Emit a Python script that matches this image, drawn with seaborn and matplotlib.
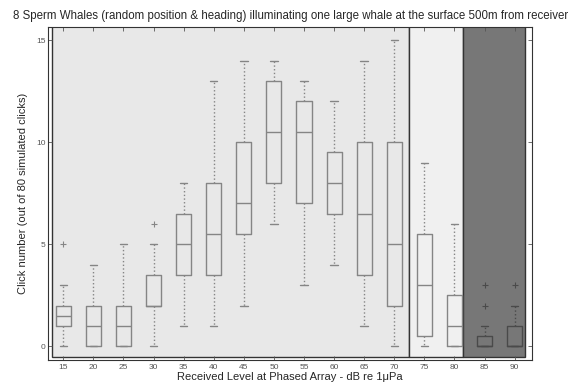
import pandas as pd
import matplotlib.pyplot as plt
import matplotlib.patches as mpatches
import seaborn as sns

# received level bins (dB re 1uPa)
levels = [15, 20, 25, 30, 35, 40, 45, 50, 55, 60, 65, 70, 75, 80, 85, 90]
# box stats (click counts)
whis_lo = [0, 0, 0, 0, 1, 1, 2, 6, 3, 4, 1, 0, 0, 0, 0, 0]
q1 = [1, 0, 0, 2, 3.5, 3.5, 5.5, 8, 7, 6.5, 3.5, 2, 0.5, 0, 0, 0]
median = [1.5, 1, 1, 2, 5, 5.5, 7, 10.5, 10.5, 8, 6.5, 5, 3, 1, 0, 0]
q3 = [2, 2, 2, 3.5, 6.5, 8, 10, 13, 12, 9.5, 10, 10, 5.5, 2.5, 0.5, 1]
whis_hi = [3, 4, 5, 5, 8, 13, 14, 14, 13, 12, 14, 15, 9, 6, 1, 2]
outliers = {15: [5], 30: [6], 85: [2, 3], 90: [3]}

# long-form samples that reproduce the quartiles above
rows = []
for i, lv in enumerate(levels):
    vals = [whis_lo[i]] + [q1[i]] * 10 + [median[i]] * 10 + [q3[i]] * 10 + [whis_hi[i]]
    vals += outliers.get(lv, [])
    rows += [(lv, v) for v in vals]
df = pd.DataFrame(rows, columns=["level", "clicks"])

sns.set_style("white")
plt.rcParams['font.family'] = ['Liberation Sans', 'DejaVu Sans']

fig = plt.figure(figsize=(5.74, 3.85), dpi=100)
ax = fig.add_axes([0.084, 0.066, 0.843, 0.864])

# shaded level regions
ax.add_patch(mpatches.Rectangle((13.2, -0.5), 59.3, 20, facecolor="#e8e8e8",
                                edgecolor="#333333", lw=1.0, zorder=0))
ax.add_patch(mpatches.Rectangle((72.5, -0.5), 9.0, 20, facecolor="#f0f0f0",
                                edgecolor="#333333", lw=1.0, zorder=0))
ax.add_patch(mpatches.Rectangle((81.5, -0.5), 10.3, 20, facecolor="#777777",
                                edgecolor="#333333", lw=1.0, zorder=0))


def draw_boxes(sub, c):
    sns.boxplot(data=sub, x="level", y="clicks", native_scale=True, fill=False,
                color=c, saturation=1, width=0.5, whis=1.5, linewidth=1,
                whiskerprops=dict(linestyle=":", color=c),
                capprops=dict(color=c),
                medianprops=dict(color=c),
                flierprops=dict(marker="+", markersize=4, markeredgecolor=c,
                                markeredgewidth=0.8),
                ax=ax)


draw_boxes(df[df["level"] < 82], "#858585")
draw_boxes(df[df["level"] > 82], "#4a4a4a")

ax.set_xlim(12.5, 92.9)
ax.set_ylim(-0.65, 15.65)
ax.set_xticks(levels)
ax.set_xticklabels([str(l) for l in levels])
ax.set_yticks([0, 5, 10, 15])
ax.tick_params(axis="both", labelsize=6, labelcolor="#555555", color="#555555",
               length=3, width=0.6)
ax.tick_params(axis="x", direction="in", top=True, bottom=True, pad=3)
ax.tick_params(axis="y", direction="in", left=True, right=True, pad=2)
for s in ax.spines.values():
    s.set_color("#333333")
    s.set_linewidth(0.8)

ax.set_xlabel("Received Level at Phased Array - dB re 1\u03bcPa", fontsize=8, labelpad=1)
ax.set_ylabel("Click number (out of 80 simulated clicks)", fontsize=8, labelpad=6)
ax.set_title("8 Sperm Whales (random position & heading) illuminating one large whale "
             "at the surface 500m from receiver", fontsize=8.3, pad=6)

fig.savefig("out.png", dpi=100)
